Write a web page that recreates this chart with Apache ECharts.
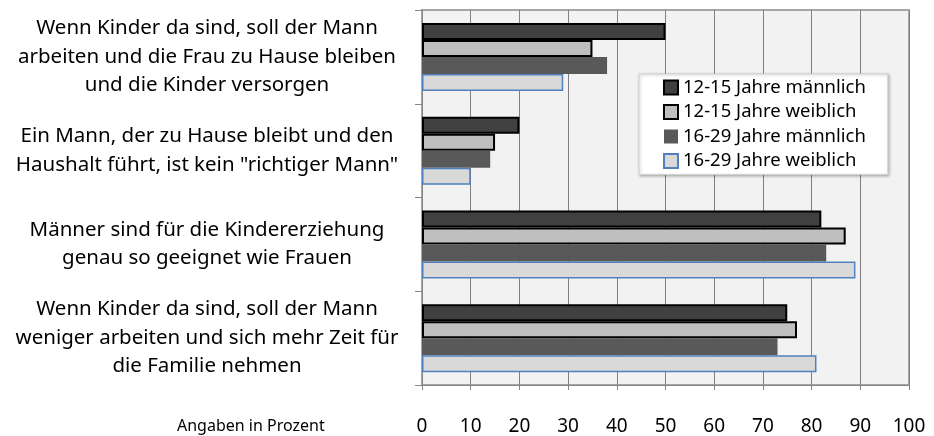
<!DOCTYPE html>
<html>
<head>
<meta charset="utf-8">
<script src="https://cdn.jsdelivr.net/npm/echarts@6/dist/echarts.min.js"></script>
<style>
  html, body { margin: 0; padding: 0; background: #fff; }
  #chart { width: 934px; height: 436px; }
</style>
</head>
<body>
<div id="chart"></div>
<script>
const categories = [
    'Wenn Kinder da sind, soll der Mann\narbeiten und die Frau zu Hause bleiben\nund die Kinder versorgen',
    'Ein Mann, der zu Hause bleibt und den\nHaushalt führt, ist kein "richtiger Mann"',
    'Männer sind für die Kindererziehung\ngenau so geeignet wie Frauen',
    'Wenn Kinder da sind, soll der Mann\nweniger arbeiten und sich mehr Zeit für\ndie Familie nehmen'
]
const seriesNames = ['12-15 Jahre männlich', '12-15 Jahre weiblich', '16-29 Jahre männlich', '16-29 Jahre weiblich']
const m1215 = [50, 20, 82, 75]
const w1215 = [35, 15, 87, 77]
const m1629 = [38, 14, 83, 73]
const w1629 = [29, 10, 89, 81]

const font = 'Noto Sans'
const styles = [
    { color: '#404040', borderColor: '#000', borderWidth: 2 },
    { color: '#bfbfbf', borderColor: '#000', borderWidth: 2 },
    { color: '#595959', borderWidth: 0 },
    { color: '#d9d9d9', borderColor: '#4f81bd', borderWidth: 1.5 }
]
const values = [m1215, w1215, m1629, w1629]

let chart = echarts.init(document.getElementById('chart'))
chart.setOption({
    animation: false,
    textStyle: { fontFamily: font },
    grid: {
        left: 422, right: 25, top: 10, bottom: 51,
        show: true, backgroundColor: '#f2f2f2', borderColor: '#a6a6a6', borderWidth: 2
    },
    legend: {
        orient: 'vertical',
        left: 639, top: 74,
        padding: [4, 22, 4, 24],
        itemGap: 5.5,
        itemWidth: 14, itemHeight: 14,
        backgroundColor: '#fff',
        borderColor: '#d0d0d0', borderWidth: 1,
        shadowColor: 'rgba(0,0,0,0.25)', shadowBlur: 3, shadowOffsetX: 1, shadowOffsetY: 1,
        icon: 'rect',
        textStyle: { fontFamily: font, fontSize: 18.5, color: '#000', lineHeight: 18 },
        data: seriesNames
    },
    xAxis: {
        type: 'value',
        min: 0, max: 100, interval: 10,
        axisLine: { show: true, lineStyle: { color: '#868686', width: 1 } },
        axisTick: { show: true, length: 5, lineStyle: { color: '#868686' } },
        splitLine: { show: true, lineStyle: { color: '#808080', width: 1 } },
        axisLabel: { fontFamily: font, fontSize: 19, color: '#000', margin: 32 }
    },
    yAxis: {
        type: 'category',
        inverse: true,
        data: categories,
        axisLine: { show: true, lineStyle: { color: '#868686', width: 1 } },
        axisTick: { show: true, length: 7, lineStyle: { color: '#868686' } },
        axisLabel: {
            fontFamily: font, fontSize: 20.5, color: '#000', lineHeight: 28.5,
            align: 'center', margin: 215
        }
    },
    graphic: [{
        type: 'text', left: 177, top: 418,
        style: { text: 'Angaben in Prozent', fontFamily: font, fontSize: 16, fill: '#000' }
    }],
    series: values.map((v, i) => ({
        name: seriesNames[i],
        type: 'bar',
        data: v,
        barWidth: 17,
        barGap: '0%',
        itemStyle: styles[i]
    }))
})
</script>
</body>
</html>
